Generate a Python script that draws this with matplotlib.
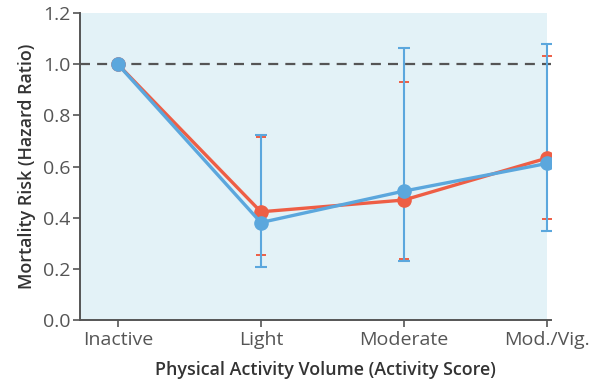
import matplotlib.pyplot as plt

categories = ['Inactive', 'Light', 'Moderate', 'Mod./Vig.']

# hazard ratios with 95% confidence limits
red_hr = [1.0, 0.423, 0.469, 0.633]
red_lo = [1.0, 0.253, 0.240, 0.393]
red_hi = [1.0, 0.714, 0.931, 1.032]

blue_hr = [1.0, 0.381, 0.504, 0.612]
blue_lo = [1.0, 0.206, 0.231, 0.346]
blue_hi = [1.0, 0.725, 1.065, 1.078]

yticks = [0.0, 0.2, 0.4, 0.6, 0.8, 1.0, 1.2]

RED = '#EE5E45'
BLUE = '#5BA7DD'
BG = '#E3F2F7'

plt.rcParams['font.family'] = ['Open Sans', 'DejaVu Sans']

fig = plt.figure(figsize=(5.96, 3.84), dpi=100)
ax = fig.add_axes([0.134, 0.1667, 0.7905, 0.7993])

x = list(range(len(categories)))
ax.set_xlim(-0.265, 3.028)
ax.set_ylim(0, 1.2)

# shaded plot area stops at the last category
ax.axvspan(-0.265, 3.0, color=BG, zorder=0, lw=0)

ax.axhline(1.0, color='#555555', lw=1.6, ls=(0, (4.5, 3.2)), zorder=1)


def err(hr, lo, hi):
    return [[h - l for h, l in zip(hr, lo)], [u - h for h, u in zip(hr, hi)]]


# red series error caps (bar hidden under the blue one)
ax.errorbar(x[1:], red_hr[1:], yerr=err(red_hr[1:], red_lo[1:], red_hi[1:]),
            fmt='none', ecolor=RED, elinewidth=1.2, capsize=3.6, capthick=1.4, zorder=2)
ax.errorbar(x[1:], blue_hr[1:], yerr=err(blue_hr[1:], blue_lo[1:], blue_hi[1:]),
            fmt='none', ecolor=BLUE, elinewidth=1.5, capsize=4.4, capthick=1.5, zorder=3)

ax.plot(x, red_hr, color=RED, lw=2.4, marker='o', ms=9.5, zorder=4)
ax.plot(x, blue_hr, color=BLUE, lw=2.4, marker='o', ms=9.5, zorder=5)

ax.spines['top'].set_visible(False)
ax.spines['right'].set_visible(False)
for s in ('left', 'bottom'):
    ax.spines[s].set_color('#555555')
    ax.spines[s].set_linewidth(1.4)

ax.set_xticks(x)
ax.set_xticklabels(categories)
ax.set_yticks(yticks)
ax.set_yticklabels([f'{v:.1f}' for v in yticks])
ax.tick_params(axis='both', colors='#555555', labelcolor='#555555', labelsize=14,
               length=5, width=1.2)
ax.tick_params(axis='x', pad=3)
ax.tick_params(axis='y', pad=2)

ax.set_xlabel('Physical Activity Volume (Activity Score)', fontsize=12.9,
              fontweight='semibold', color='#333333')
ax.xaxis.set_label_coords(0.522, -0.132)
ax.set_ylabel('Mortality Risk (Hazard Ratio)', fontsize=12.9,
              fontweight='semibold', color='#333333', labelpad=5)

fig.savefig('out.png', dpi=100)
